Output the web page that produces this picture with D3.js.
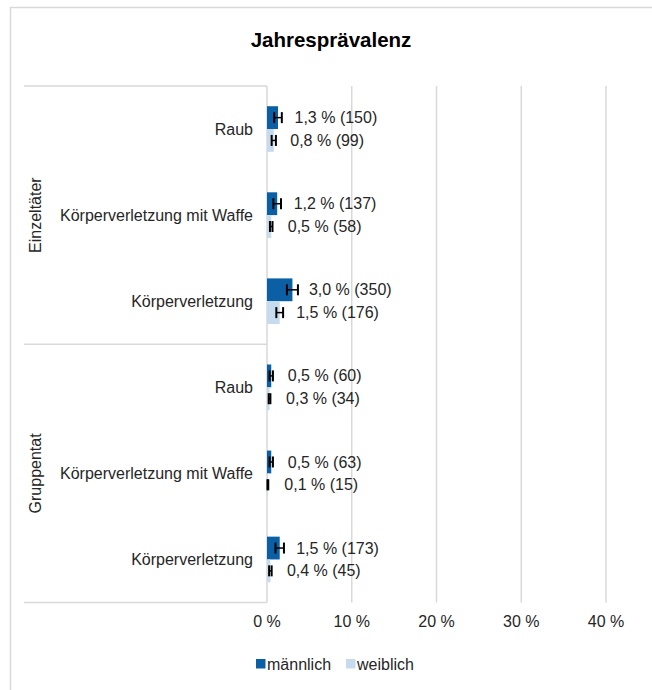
<!DOCTYPE html>
<html>
<head>
<meta charset="utf-8">
<script src="https://cdn.jsdelivr.net/npm/d3@7"></script>
<style>
  body { margin: 0; background: #fff; }
  text { font-family: "Liberation Sans", Arial, sans-serif; fill: #262626; }
</style>
</head>
<body>
<script>
// chart data
let groups = ["Einzeltäter", "Gruppentat"];
let categories = ["Raub", "Körperverletzung mit Waffe", "Körperverletzung"];
let maleValues = [1.3, 1.2, 3.0, 0.5, 0.5, 1.5];
let maleCounts = [150, 137, 350, 60, 63, 173];
let maleErrors = [0.45, 0.45, 0.65, 0.2, 0.2, 0.5];
let femaleValues = [0.8, 0.5, 1.5, 0.3, 0.1, 0.4];
let femaleCounts = [99, 58, 176, 34, 15, 45];
let femaleErrors = [0.25, 0.15, 0.4, 0.1, 0.05, 0.15];
let xTicks = [0, 10, 20, 30, 40];
let seriesNames = ["männlich", "weiblich"];
let seriesColors = ["#0B5FA5", "#C6DCEE"];

let width = 652, height = 690;
let gridColor = "#d9d9d9";

// build rows: one per group/category pair
let rows = [];
groups.forEach(function(g, gi) {
	categories.forEach(function(c, ci) {
		let i = gi * categories.length + ci;
		rows.push({
			key: g + "|" + c, group: g, cat: c,
			series: [
				{s: 0, v: maleValues[i], n: maleCounts[i], e: maleErrors[i]},
				{s: 1, v: femaleValues[i], n: femaleCounts[i], e: femaleErrors[i]}
			]
		});
	});
});

let svg = d3.select("body").append("svg")
	.attr("width", width)
	.attr("height", height);

// outer frame (runs off the right and bottom edge)
svg.append("rect")
	.attr("x", 10.5).attr("y", 7.5)
	.attr("width", 700).attr("height", 700)
	.attr("fill", "none")
	.attr("stroke", gridColor)
	.attr("stroke-width", 1.5);

// title
svg.append("text")
	.attr("x", 331).attr("y", 47)
	.attr("text-anchor", "middle")
	.style("font-size", "20.5px")
	.style("font-weight", "bold")
	.style("fill", "#000")
	.text("Jahresprävalenz");

let xScale = d3.scaleLinear().domain([0, 40]).range([267, 606]);
let yScale = d3.scaleBand().domain(rows.map(function(d) { return d.key; }))
	.range([86, 602.5]).padding(0);
let barH = yScale.bandwidth() * 0.265;

// vertical gridlines
svg.append("g").selectAll("line")
	.data(xTicks)
	.enter().append("line")
		.attr("x1", function(d) { return xScale(d); })
		.attr("x2", function(d) { return xScale(d); })
		.attr("y1", 86).attr("y2", 602.5)
		.attr("stroke", gridColor)
		.attr("stroke-width", 1.5);

// x tick labels
svg.append("g").selectAll("text")
	.data(xTicks)
	.enter().append("text")
		.attr("x", function(d) { return xScale(d); })
		.attr("y", 627)
		.attr("text-anchor", "middle")
		.style("font-size", "16px")
		.text(function(d) { return d + " %"; });

// category axis: separator lines between groups
let groupEdges = [86, yScale(rows[3].key), 602.5];
svg.append("g").selectAll("line")
	.data(groupEdges)
	.enter().append("line")
		.attr("x1", 24).attr("x2", xScale(0))
		.attr("y1", function(d) { return d; })
		.attr("y2", function(d) { return d; })
		.attr("stroke", gridColor)
		.attr("stroke-width", 1.5);

// category labels
svg.append("g").selectAll("text")
	.data(rows)
	.enter().append("text")
		.attr("x", 253)
		.attr("y", function(d) { return yScale(d.key) + yScale.bandwidth() / 2; })
		.attr("dy", "0.35em")
		.attr("text-anchor", "end")
		.style("font-size", "16px")
		.text(function(d) { return d.cat; });

// group labels, rotated
svg.append("g").selectAll("text")
	.data(groups)
	.enter().append("text")
		.attr("transform", function(d, i) {
			let cy = (groupEdges[i] + groupEdges[i + 1]) / 2;
			return "translate(35," + cy + ") rotate(-90)";
		})
		.attr("dy", "0.35em")
		.attr("text-anchor", "middle")
		.style("font-size", "16px")
		.text(function(d) { return d; });

// bars, error bars and value labels
let rowG = svg.append("g").selectAll("g")
	.data(rows)
	.enter().append("g")
		.attr("transform", function(d) {
			return "translate(0," + (yScale(d.key) + yScale.bandwidth() / 2 - barH) + ")";
		});

let serG = rowG.selectAll("g")
	.data(function(d) { return d.series; })
	.enter().append("g")
		.attr("transform", function(d) { return "translate(0," + (d.s * barH) + ")"; });

serG.append("rect")
	.attr("x", xScale(0))
	.attr("y", 0)
	.attr("width", function(d) { return xScale(d.v) - xScale(0); })
	.attr("height", barH)
	.attr("fill", function(d) { return seriesColors[d.s]; });

serG.append("line")
	.attr("x1", function(d) { return xScale(d.v - d.e); })
	.attr("x2", function(d) { return xScale(d.v + d.e); })
	.attr("y1", barH / 2).attr("y2", barH / 2)
	.attr("stroke", "#000")
	.attr("stroke-width", 1.5);

serG.selectAll("line.cap")
	.data(function(d) { return [d.v - d.e, d.v + d.e]; })
	.enter().append("line")
		.attr("class", "cap")
		.attr("x1", function(d) { return xScale(d); })
		.attr("x2", function(d) { return xScale(d); })
		.attr("y1", barH / 2 - 5.5).attr("y2", barH / 2 + 5.5)
		.attr("stroke", "#000")
		.attr("stroke-width", 2);

serG.append("text")
	.attr("x", function(d) { return xScale(d.v) + 16.5; })
	.attr("y", barH / 2)
	.attr("dy", "0.35em")
	.style("font-size", "16px")
	.text(function(d) { return d.v.toFixed(1).replace(".", ",") + " % (" + d.n + ")"; });

// legend
let legend = svg.append("g").selectAll("g")
	.data(seriesNames)
	.enter().append("g")
		.attr("transform", function(d, i) { return "translate(" + [256, 346][i] + ",0)"; });

legend.append("rect")
	.attr("x", 0).attr("y", 659)
	.attr("width", 9.5).attr("height", 9.5)
	.attr("fill", function(d, i) { return seriesColors[i]; });

legend.append("text")
	.attr("x", 11).attr("y", 670)
	.style("font-size", "16px")
	.text(function(d) { return d; });
</script>
</body>
</html>
